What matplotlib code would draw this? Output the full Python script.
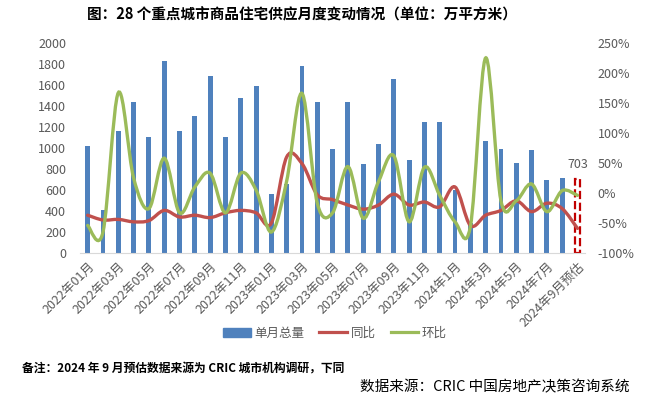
import matplotlib
matplotlib.use('Agg')
import matplotlib.pyplot as plt
from matplotlib.path import Path
from matplotlib.patches import PathPatch, Patch
from matplotlib.lines import Line2D
from matplotlib.ticker import MultipleLocator, FuncFormatter

plt.rcParams['font.family'] = ['Noto Sans CJK SC', 'DejaVu Sans']

# tick labels (every other month shown)
tick_labels = ['2022年01月', '2022年03月', '2022年05月', '2022年07月', '2022年09月',
               '2022年11月', '2023年01月', '2023年03月', '2023年05月', '2023年07月',
               '2023年09月', '2023年11月', '2024年1月', '2024年3月', '2024年5月',
               '2024年7月', '2024年9月预估']

# 单月总量 (万平方米), last one is the September estimate
volume = [1019, 408, 1165, 1442, 1108, 1824, 1165, 1306, 1688, 1108, 1478, 1592,
          561, 659, 1777, 1433, 993, 1442, 847, 1038, 1659, 888, 1251, 1248,
          600, 285, 1067, 990, 857, 981, 694, 714, 703]
# 同比
yoy = [-37, -45, -44, -48, -46, -29, -40, -37, -41, -33, -29, -33,
       -50, 60, 49, -3, -11, -20, -27, -20, -2, -20, -15, -23,
       10, -54, -37, -29, -13, -31, -17, -26, -59]
# 环比
mom = [-54, -65, 167, 25, -26, 58, -33, 10, 33, -33, 33, 5,
       -65, 20, 166, -17, -33, 44, -42, 19, 62, -48, 43, -4,
       -48, -56, 225, -13, -13, 15, -31, 4, -4]

blue = '#4F81BD'
red = '#C0504D'
green = '#9BBB59'
grey = '#595959'


def smooth_path(xs, ys):
    # excel-like smoothed line: catmull-rom as cubic bezier
    n = len(xs)
    verts = [(xs[0], ys[0])]
    codes = [Path.MOVETO]
    for i in range(n - 1):
        x0, y0 = (xs[i - 1], ys[i - 1]) if i > 0 else (xs[i], ys[i])
        x1, y1 = xs[i], ys[i]
        x2, y2 = xs[i + 1], ys[i + 1]
        x3, y3 = (xs[i + 2], ys[i + 2]) if i + 2 < n else (x2, y2)
        verts += [(x1 + (x2 - x0) / 6, y1 + (y2 - y0) / 6),
                  (x2 - (x3 - x1) / 6, y2 - (y3 - y1) / 6),
                  (x2, y2)]
        codes += [Path.CURVE4] * 3
    return Path(verts, codes)


fig = plt.figure(figsize=(6.56, 4.01), dpi=100)
ax = fig.add_axes([0.122, 0.369, 0.770, 0.524])
ax2 = ax.twinx()

x = list(range(len(volume)))
ax.bar(x[:-1], volume[:-1], width=0.32, color=blue, zorder=2)
ax.bar(x[-1], volume[-1], width=0.32, facecolor='white', edgecolor='#C00000',
       linestyle='--', linewidth=1.6, zorder=2)
ax.text(x[-1], volume[-1] + 80, str(volume[-1]), ha='center', va='bottom',
        fontsize=9, color=grey)

ax.set_xlim(-0.5, len(volume) - 0.5)
ax.set_ylim(0, 2000)
ax.yaxis.set_major_locator(MultipleLocator(200))
ax.set_xticks(x[::2])
ax.set_xticklabels(tick_labels, rotation=45, ha='right', rotation_mode='anchor')

ax2.set_ylim(-100, 250)
ax2.yaxis.set_major_locator(MultipleLocator(50))
ax2.yaxis.set_major_formatter(FuncFormatter(lambda v, p: '%d%%' % v))
ax2.add_patch(PathPatch(smooth_path(x, yoy), facecolor='none', edgecolor=red,
                        linewidth=2.4, capstyle='round'))
ax2.add_patch(PathPatch(smooth_path(x, mom), facecolor='none', edgecolor=green,
                        linewidth=2.4, capstyle='round'))

for a in (ax, ax2):
    for s in a.spines.values():
        s.set_visible(False)
    a.tick_params(length=0, labelsize=9, colors=grey)
ax.spines['bottom'].set_visible(True)
ax.spines['bottom'].set_color('#D9D9D9')
ax.tick_params(axis='x', pad=5)
ax.tick_params(axis='y', pad=10)
ax2.tick_params(axis='y', pad=9)

handles = [Patch(color=blue), Line2D([], [], color=red, lw=2.3),
           Line2D([], [], color=green, lw=2.3)]
fig.legend(handles, ['单月总量', '同比', '环比'], loc='center', ncol=3,
           bbox_to_anchor=(335 / 656, 1 - 333 / 401), frameon=False,
           fontsize=9, labelcolor=grey, handlelength=2.2, handletextpad=0.3,
           columnspacing=1.2)

fig.text(302 / 656, 1 - 14 / 401, '图：28 个重点城市商品住宅供应月度变动情况（单位：万平方米）',
         ha='center', va='center', fontsize=10.5, fontweight='bold')
fig.text(22 / 656, 1 - 369 / 401, '备注：2024 年 9 月预估数据来源为 CRIC 城市机构调研，下同',
         ha='left', va='center', fontsize=8.5, fontweight='bold')
fig.text(630 / 656, 1 - 387 / 401, '数据来源：CRIC 中国房地产决策咨询系统',
         ha='right', va='center', fontsize=10.5)

fig.savefig('out.png', dpi=100)
